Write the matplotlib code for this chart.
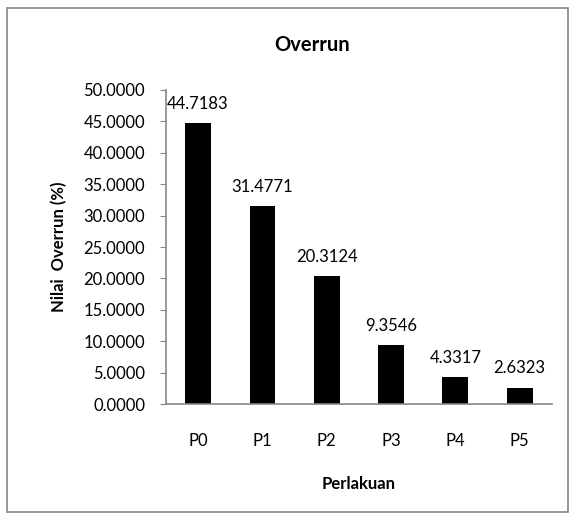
import matplotlib
matplotlib.use("Agg")
import matplotlib.pyplot as plt
from matplotlib.patches import Rectangle
from matplotlib.ticker import MultipleLocator, FormatStrFormatter

perlakuan = ["P0", "P1", "P2", "P3", "P4", "P5"]
overrun = [44.7183, 31.4771, 20.3124, 9.3546, 4.3317, 2.6323]

plt.rcParams['font.family'] = ['Lato', 'DejaVu Sans']
axis_grey = '#868686'

fig = plt.figure(figsize=(5.76, 5.2), dpi=100)
ax = fig.add_axes([0.288, 0.223, 0.67, 0.604])

x = range(len(perlakuan))
ax.bar(x, overrun, width=0.4, color='black')
for i, v in zip(x, overrun):
    ax.annotate(f"{v:.4f}", (i, v), xytext=(0, 8), textcoords='offset points',
                ha='center', va='bottom', fontsize=12)

ax.set_xlim(-0.5, len(perlakuan) - 0.5)
ax.set_ylim(0, 50)
ax.yaxis.set_major_locator(MultipleLocator(5))
ax.yaxis.set_major_formatter(FormatStrFormatter('%.4f'))
ax.set_xticks(list(x))
ax.set_xticklabels(perlakuan)

for s in ['top', 'right']:
    ax.spines[s].set_visible(False)
for s in ['left', 'bottom']:
    ax.spines[s].set_color(axis_grey)
    ax.spines[s].set_linewidth(1.2)
ax.tick_params(axis='y', direction='out', length=4, color=axis_grey, pad=11, labelsize=12)
ax.tick_params(axis='x', length=0, pad=21, labelsize=12)

ax.set_ylabel("Nilai  Overrun (%)", fontsize=12, fontweight='bold')
ax.yaxis.set_label_coords(-0.256, 0.5)
ax.set_xlabel("Perlakuan", fontsize=12, fontweight='bold')
ax.xaxis.set_label_coords(0.5, -0.228)
fig.text(0.542, 0.913, "Overrun", ha='center', va='center', fontsize=14.5, fontweight='bold')

# chart area border
fig.patches.append(Rectangle((7 / 576, 8 / 520), 561 / 576, 504 / 520,
                             transform=fig.transFigure, fill=False,
                             edgecolor=axis_grey, linewidth=1.2))

fig.savefig("out.png", dpi=100)
